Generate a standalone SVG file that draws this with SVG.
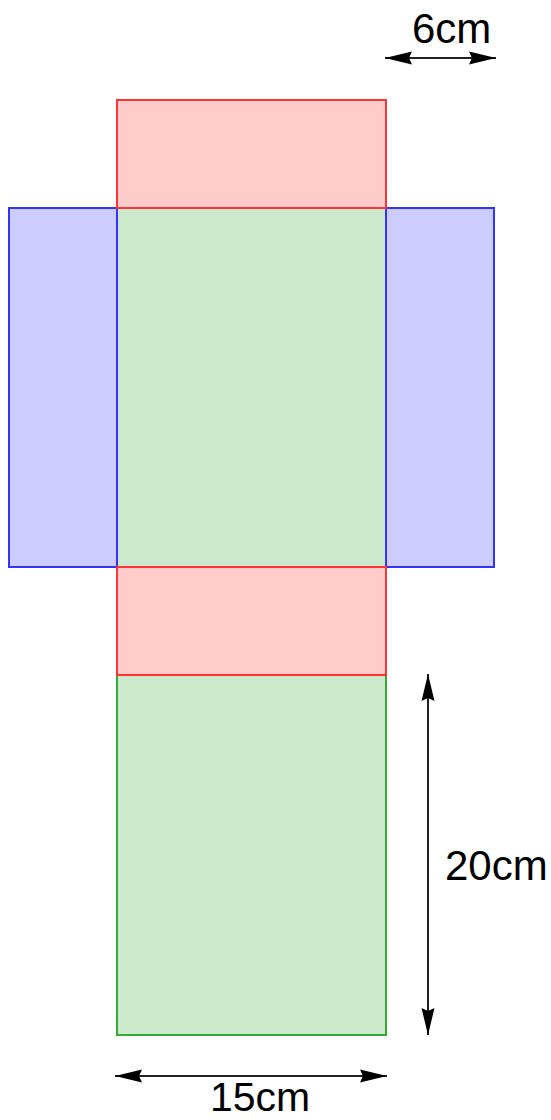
<svg xmlns="http://www.w3.org/2000/svg" width="551" height="1120" viewBox="0 0 551 1120">
<style>
.red{fill:#ffcccc;stroke:#ff3333;stroke-width:2}
.blue{fill:#ccccff;stroke:#3333ff;stroke-width:2}
.green{fill:#cce9cc;stroke:#33aa33;stroke-width:2}
.dim{stroke:#222;stroke-width:2;fill:none;marker-start:url(#ah);marker-end:url(#ah)}
.lbl{font-family:"Liberation Sans",Arial,sans-serif;font-size:42px;fill:#000}
</style>
<defs>
<marker id="ah" viewBox="0 0 27 14" refX="27" refY="7" markerWidth="27" markerHeight="14" markerUnits="userSpaceOnUse" orient="auto-start-reverse">
<path d="M0,0.5 L27,7 L0,13.5 L3,7 z" fill="#000"/>
</marker>
</defs>
<rect width="551" height="1120" fill="#fff"/>
<g id="face-bottom-green"><rect class="green" x="117" y="675" width="269" height="360"/></g>
<g id="face-middle-green"><rect class="green" x="117" y="208" width="269" height="359"/></g>
<g id="face-left-blue"><rect class="blue" x="9" y="208" width="108" height="359"/></g>
<g id="face-right-blue"><rect class="blue" x="386" y="208" width="108" height="359"/></g>
<g id="face-top-red"><rect class="red" x="117" y="100" width="269" height="108"/></g>
<g id="face-lower-red"><rect class="red" x="117" y="567" width="269" height="108"/></g>
<g id="connectors">
<line class="dim" x1="385" y1="58" x2="496" y2="58"/>
<line class="dim" x1="115" y1="1076" x2="387" y2="1076"/>
<line class="dim" x1="428" y1="674" x2="428" y2="1035"/>
</g>
<g id="labels">
<text class="lbl" x="412" y="43">6cm</text>
<text class="lbl" x="445" y="880">20cm</text>
<text class="lbl" x="210" y="1111" style="font-size:41px">15cm</text>
</g>
</svg>
